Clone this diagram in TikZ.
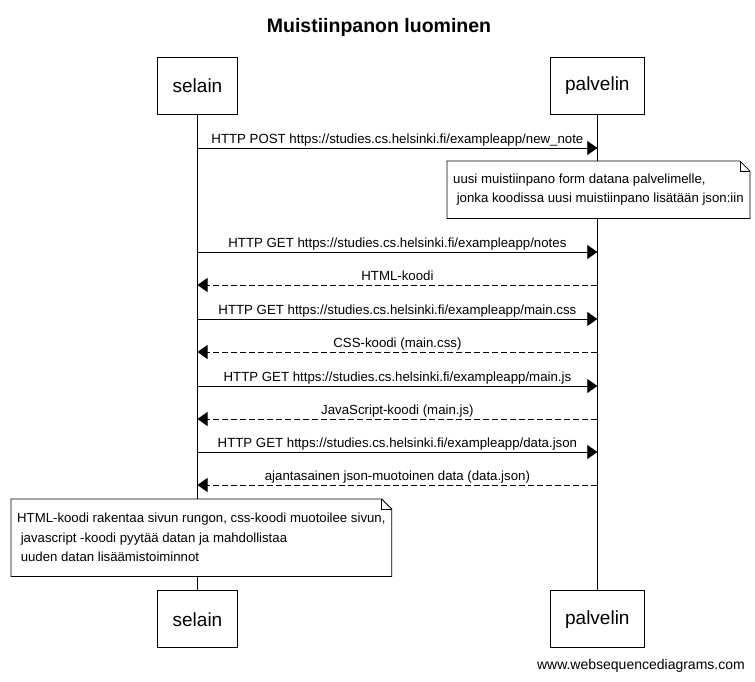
\documentclass[tikz,border=0pt]{standalone}
\usepackage{fontspec}
\setmainfont{Liberation Sans}
\usetikzlibrary{positioning, arrows.meta}

\begin{document}
\begin{tikzpicture}[x=1pt, y=-1pt,
  % Node Styles
  actor/.style={rectangle, draw, fill=white, line width=0.8pt, minimum height=57pt, inner xsep=15pt, inner ysep=0pt, font=\fontsize{19}{22}\selectfont},
  notenode/.style={rectangle, fill=white, anchor=north west, align=left, inner xsep=6pt, inner ysep=0pt, font=\fontsize{13.2}{19.5}\selectfont},
  msglabel/.style={midway, anchor=base, inner sep=0pt, yshift=5pt, font=\fontsize{13.25}{15}\selectfont},
  % Arrow Styles
  solidmsg/.style={-{Triangle[length=10pt, width=14pt]}, line width=0.8pt},
  dashedmsg/.style={solidmsg, dash pattern=on 6pt off 3pt},
  lifeline/.style={line width=0.8pt},
  notebox/.style={line width=0.8pt}
]
\useasboundingbox (0,0) rectangle (755,681);

% Title
\node[anchor=base, font=\fontsize{19.5}{22}\selectfont\bfseries] (title) at (379,32) {Muistiinpanon luominen};

% Nodes
\node[actor] (selain) at (197.5,85.5) {selain};
\node[actor, right=312pt of selain] (palvelin) {palvelin};
\node[actor, below=476pt of selain] (selainB) {selain};
\node[actor, below=476pt of palvelin] (palvelinB) {palvelin};

% Lifelines
\draw[lifeline] (selain) -- (selainB);
\draw[lifeline] (palvelin) -- (palvelinB);

% Message points on the lifelines
\foreach \n/\y in {1/148, 2/252, 3/285, 4/319, 5/352, 6/386, 7/419, 8/452, 9/485} {
  \coordinate (s\n) at (selain |- 0,\y);
  \coordinate (p\n) at (palvelin |- 0,\y);
}

% Arrows
\draw[solidmsg] (s1) -- node[msglabel] {HTTP POST https://studies.cs.helsinki.fi/exampleapp/new\_note} (p1);
\draw[solidmsg] (s2) -- node[msglabel] {HTTP GET https://studies.cs.helsinki.fi/exampleapp/notes} (p2);
\draw[dashedmsg] (p3) -- node[msglabel] {HTML-koodi} (s3);
\draw[solidmsg] (s4) -- node[msglabel] {HTTP GET https://studies.cs.helsinki.fi/exampleapp/main.css} (p4);
\draw[dashedmsg] (p5) -- node[msglabel] {CSS-koodi (main.css)} (s5);
\draw[solidmsg] (s6) -- node[msglabel] {HTTP GET https://studies.cs.helsinki.fi/exampleapp/main.js} (p6);
\draw[dashedmsg] (p7) -- node[msglabel] {JavaScript-koodi (main.js)} (s7);
\draw[solidmsg] (s8) -- node[msglabel] {HTTP GET https://studies.cs.helsinki.fi/exampleapp/data.json} (p8);
\draw[dashedmsg] (p9) -- node[msglabel] {ajantasainen json-muotoinen data (data.json)} (s9);

% Notes
\node[notenode, minimum height=57pt] (note1) at (447,161) {uusi muistiinpano form datana palvelimelle,\\\hspace*{3.6pt}jonka koodissa uusi muistiinpano lisätään json:iin};
\node[notenode, minimum height=77pt] (note2) at (11,499) {HTML-koodi rakentaa sivun rungon, css-koodi muotoilee sivun,\\\hspace*{3.6pt}javascript -koodi pyytää datan ja mahdollistaa\\\hspace*{3.6pt}uuden datan lisäämistoiminnot};
\foreach \nt in {note1, note2} {
  \draw[notebox] (\nt.north west) -- ([xshift=-10pt]\nt.north east) -- ([yshift=-10pt]\nt.north east) -- (\nt.south east) -- (\nt.south west) -- cycle;
  \draw[notebox] ([xshift=-10pt]\nt.north east) -- ([xshift=-10pt, yshift=-10pt]\nt.north east) -- ([yshift=-10pt]\nt.north east); % folded corner
}

% Footer
\node[anchor=base east, inner sep=0pt, font=\fontsize{14}{16}\selectfont] (footer) at (745,669) {www.websequencediagrams.com};

\end{tikzpicture}
\end{document}
